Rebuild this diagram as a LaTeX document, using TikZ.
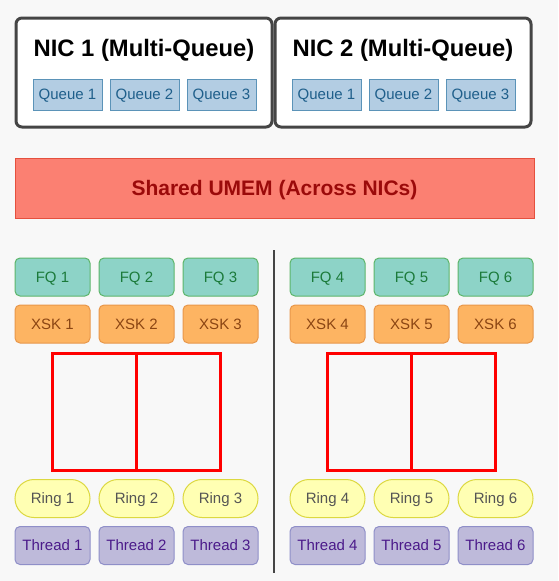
\documentclass[tikz,border=0pt]{standalone}
\usepackage{fontspec}
\setmainfont{Liberation Sans}
\usetikzlibrary{positioning}

\definecolor{bggray}{HTML}{F8F8F8}
\definecolor{nicgray}{HTML}{454545}
\definecolor{qfill}{HTML}{B3CDE3}
\definecolor{qdraw}{HTML}{5B93B8}
\definecolor{qtext}{HTML}{1F5F8B}
\definecolor{umfill}{HTML}{FB8072}
\definecolor{umdraw}{HTML}{E5503E}
\definecolor{umtext}{HTML}{9B0A0A}
\definecolor{fqfill}{HTML}{8DD3C7}
\definecolor{fqdraw}{HTML}{5DB56A}
\definecolor{fqtext}{HTML}{1B7A3A}
\definecolor{xskfill}{HTML}{FDB462}
\definecolor{xskdraw}{HTML}{E8974A}
\definecolor{xsktext}{HTML}{8B4513}
\definecolor{ringfill}{HTML}{FFFFB3}
\definecolor{ringdraw}{HTML}{DCD840}
\definecolor{ringtext}{HTML}{555555}
\definecolor{thfill}{HTML}{BEBADA}
\definecolor{thdraw}{HTML}{8F8FC8}
\definecolor{thtext}{HTML}{4B1A8A}

\begin{document}
\begin{tikzpicture}[x=1pt, y=-1pt,
    lbl/.style={font=\fontsize{15}{18}\selectfont, inner sep=0pt, text height=10.7pt, text depth=0pt},
    cell/.style={lbl, draw, line width=1pt, rounded corners=5pt, minimum width=75pt, minimum height=38pt},
    queue/.style={lbl, draw=qdraw, fill=qfill, text=qtext, line width=1pt, minimum width=69pt, minimum height=31pt},
    nic/.style={draw=nicgray, fill=white, line width=3pt, rounded corners=6pt, minimum width=256pt, minimum height=109pt, inner sep=0pt},
    fq/.style={cell, draw=fqdraw, fill=fqfill, text=fqtext},
    xsk/.style={cell, draw=xskdraw, fill=xskfill, text=xsktext},
    ring/.style={cell, draw=ringdraw, fill=ringfill, text=ringtext, rounded corners=19pt},
    thread/.style={cell, draw=thdraw, fill=thfill, text=thtext},
    redbox/.style={draw=red, line width=3pt}]

    \fill[bggray] (0,0) rectangle (558,581);
    \useasboundingbox (0,0) rectangle (558,581);

    % the two NICs
    \foreach \n/\x in {1/144, 2/403} {
        \node[nic] (nic\n) at (\x,72.5) {};
        \node[font=\bfseries\fontsize{23.8}{28}\selectfont, inner sep=0pt, text height=17pt, text depth=0pt] (title\n) at (\x,48) {NIC \n\ (Multi-Queue)};
        \foreach \q/\dx in {1/-76.5, 2/0.5, 3/77.5}
            \node[queue] (q\n\q) at (\x+\dx,94.5) {Queue \q};
    }

    % shared umem
    \node[draw=umdraw, fill=umfill, text=umtext, line width=1pt, minimum width=519pt, minimum height=60pt,
        text height=15pt, text depth=0pt,
        font=\bfseries\fontsize{21}{24}\selectfont] (umem) at (274.5,188) {Shared UMEM (Across NICs)};

    \coordinate (divtop) at (274,250);
    \coordinate (divbot) at (274,573);
    \draw[nicgray, line width=2pt] (divtop) -- (divbot);

    % per-queue columns
    \foreach \i/\x in {1/52.5, 2/136.5, 3/220.5, 4/327.5, 5/411.5, 6/495.5} {
        \node[fq] (fq\i) at (\x,277) {FQ \i};
        \node[xsk] (xsk\i) at (\x,324) {XSK \i};
        \node[ring] (ring\i) at (\x,498.5) {Ring \i};
        \node[thread] (thread\i) at (\x,545.5) {Thread \i};
    }

    \foreach \a/\b/\c in {1/2/3, 4/5/6} {
        \draw[redbox] (xsk\a.center |- 0,353) rectangle (xsk\b.center |- 0,470);
        \draw[redbox] (xsk\b.center |- 0,353) rectangle (xsk\c.center |- 0,470);
    }
\end{tikzpicture}
\end{document}
